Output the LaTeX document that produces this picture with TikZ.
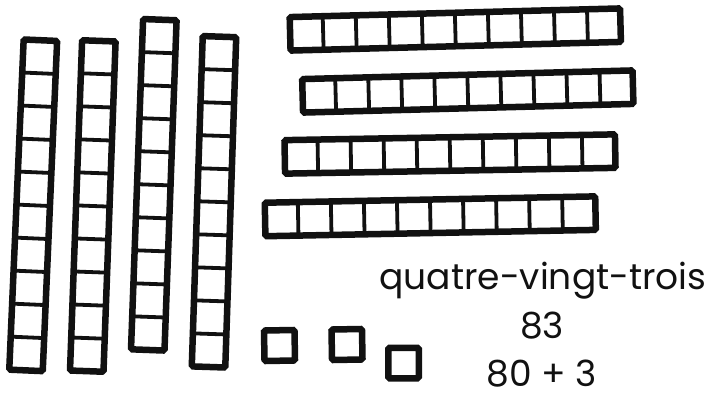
\documentclass[tikz,border=0pt]{standalone}
\usepackage{fontspec}
\setmainfont{Poppins}
\definecolor{ink}{HTML}{111111}
\tikzset{
  x=1pt, y={(0,-1pt)},
  outerline/.style={draw=ink, line width=6.5pt, rounded corners=1.5pt},
  innerline/.style={draw=ink, line width=3.8pt},
  cubebox/.style={draw=ink, line width=6.5pt, rounded corners=1.5pt},
  numtext/.style={font=\fontsize{36}{40}\selectfont, text=ink, inner sep=0pt, anchor=base},
  vrod/.pic={
    \draw[outerline] (-16.75,-165.25) rectangle (16.75,165.25);
    \foreach \k in {1,...,9}{\draw[innerline] (-16.75,-165.25+33.05*\k) -- (16.75,-165.25+33.05*\k);}
  },
  hrod/.pic={
    \draw[outerline] (-165.25,-16.75) rectangle (165.25,16.75);
    \foreach \k in {1,...,9}{\draw[innerline] (-165.25+33.05*\k,-16.75) -- (-165.25+33.05*\k,16.75);}
  },
  unitcube/.pic={
    \draw[cubebox] (-15.25,-15.25) rectangle (15.25,15.25);
  }
}
\begin{document}
\begin{tikzpicture}
\fill[white] (0,0) rectangle (715,396);
\useasboundingbox (0,0) rectangle (715,396);
% vertical rods (tens)
\pic[rotate=-2.5] at (33.2,205.3) {vrod};
\pic[rotate=-2.1] at (92.8,206) {vrod};
\pic[rotate=-2.1] at (153.8,184.8) {vrod};
\pic[rotate=-1.9] at (214,201.8) {vrod};
% horizontal rods (tens)
\pic[rotate=1.5] at (455.3,29.5) {hrod};
\pic[rotate=1.5] at (467.8,91.5) {hrod};
\pic[rotate=1.0] at (450,154) {hrod};
\pic[rotate=1.1] at (430.3,216.3) {hrod};
% unit cubes
\pic[rotate=1] at (279.5,345.5) {unitcube};
\pic[rotate=1] at (347,344.5) {unitcube};
\pic[rotate=0] at (403.5,363) {unitcube};
% texts
\node[numtext] (words) at (543,289) {quatre-vingt-trois};
\node[numtext] (digits) at (542,338) {83};
\node[numtext, text depth=0pt] (sum) at (542,386) {80 + 3};
\end{tikzpicture}
\end{document}
